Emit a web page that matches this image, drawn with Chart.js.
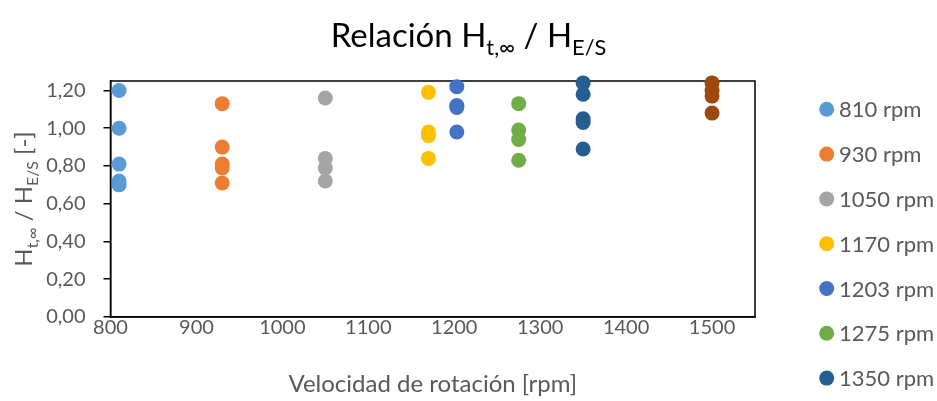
<!DOCTYPE html>
<html>
<head>
<meta charset="utf-8">
<script src="https://cdn.jsdelivr.net/npm/chart.js@4/dist/chart.umd.min.js"></script>
<style>
  html, body { margin: 0; padding: 0; background: #fff; overflow: hidden; }
  #wrap { width: 937px; height: 401px; }
</style>
</head>
<body>
<div id="wrap"><canvas id="c" width="937" height="401"></canvas></div>
<script>
// Rotation speed groups (rpm) and the measured H_t,inf / H_E/S ratios for each
const speedLabels = ['810 rpm', '930 rpm', '1050 rpm', '1170 rpm', '1203 rpm', '1275 rpm', '1350 rpm', '1500 rpm'];
const speeds = [810, 930, 1050, 1170, 1203, 1275, 1350, 1500];
const ratio810 = [1.20, 1.00, 0.81, 0.72, 0.70];
const ratio930 = [1.13, 0.90, 0.81, 0.79, 0.71];
const ratio1050 = [1.16, 0.84, 0.79, 0.72];
const ratio1170 = [1.19, 0.98, 0.96, 0.84];
const ratio1203 = [1.22, 1.12, 1.11, 0.98];
const ratio1275 = [1.13, 0.99, 0.94, 0.83];
const ratio1350 = [1.24, 1.18, 1.05, 1.03, 0.89];
const ratio1500 = [1.24, 1.20, 1.17, 1.08];
const ratios = [ratio810, ratio930, ratio1050, ratio1170, ratio1203, ratio1275, ratio1350, ratio1500];
const seriesColors = ['#5B9BD5', '#ED7D31', '#A5A5A5', '#FFC000', '#4472C4', '#70AD47', '#255E91', '#9E480E'];

// Axis tick values
const xTicks = [800, 900, 1000, 1100, 1200, 1300, 1400, 1500];
const yTicks = [0, 0.2, 0.4, 0.6, 0.8, 1.0, 1.2];

const FONT = 'Lato, "Open Sans", sans-serif';
const TEXT_GREY = '#595959';

const datasets = speeds.map((s, i) => ({
  label: speedLabels[i],
  data: ratios[i].map(v => ({ x: s, y: v })),
  backgroundColor: seriesColors[i],
  borderColor: seriesColors[i],
  borderWidth: 0,
  pointRadius: 7.5,
  pointHoverRadius: 7.5,
  clip: false
}));

// Draws text made of normal and subscript runs
function drawRich(ctx, parts, x, y, size, color, align) {
  const subSize = size * 0.66;
  let total = 0;
  parts.forEach(p => {
    ctx.font = (p.sub ? subSize : size) + 'px ' + FONT;
    p.w = ctx.measureText(p.t).width;
    total += p.w;
  });
  let cx = align === 'center' ? x - total / 2 : x;
  ctx.fillStyle = color;
  ctx.textBaseline = 'alphabetic';
  ctx.textAlign = 'left';
  parts.forEach(p => {
    ctx.font = (p.sub ? subSize : size) + 'px ' + FONT;
    ctx.fillText(p.t, cx, p.sub ? y + size * 0.24 : y);
    cx += p.w;
  });
}

const decorations = {
  id: 'decorations',
  beforeDatasetsDraw(chart) {
    const { ctx, chartArea: a } = chart;
    ctx.save();
    ctx.strokeStyle = '#000';
    ctx.lineWidth = 1.5;
    ctx.strokeRect(a.left, a.top, a.right - a.left, a.bottom - a.top);
    ctx.restore();
  },
  afterDraw(chart) {
    const { ctx, chartArea: a } = chart;
    ctx.save();
    // Title
    drawRich(ctx, [{ t: 'Relación H' }, { t: 't,∞', sub: true }, { t: ' / H' }, { t: 'E/S', sub: true }],
      chart.width / 2, 47, 33, '#000', 'center');
    // X axis title
    drawRich(ctx, [{ t: 'Velocidad de rotación [rpm]' }], (a.left + a.right) / 2, 392, 24, TEXT_GREY, 'center');
    // Y axis title
    ctx.translate(32, (a.top + a.bottom) / 2);
    ctx.rotate(-Math.PI / 2);
    drawRich(ctx, [{ t: 'H' }, { t: 't,∞', sub: true }, { t: ' / H' }, { t: 'E/S', sub: true }, { t: ' [-]' }],
      0, 0, 24, TEXT_GREY, 'center');
    ctx.restore();

    // Legend column on the right
    ctx.save();
    chart.data.datasets.forEach((ds, i) => {
      const y = 109.3 + i * 44.8;
      ctx.beginPath();
      ctx.fillStyle = ds.backgroundColor;
      ctx.arc(826.7, y, 7.5, 0, Math.PI * 2);
      ctx.fill();
      ctx.font = '22px ' + FONT;
      ctx.fillStyle = TEXT_GREY;
      ctx.textAlign = 'left';
      ctx.textBaseline = 'middle';
      ctx.fillText(ds.label, 839, y + 1);
    });
    ctx.restore();
  }
};

new Chart(document.getElementById('c'), {
  type: 'scatter',
  data: { datasets },
  options: {
    responsive: false,
    animation: false,
    devicePixelRatio: 1,
    layout: { padding: { top: 81, right: 182, left: 10.5, bottom: 54 } },
    plugins: { legend: { display: false }, tooltip: { enabled: false }, title: { display: false } },
    scales: {
      x: {
        type: 'linear',
        min: 800,
        max: 1550,
        afterBuildTicks: s => { s.ticks = xTicks.map(v => ({ value: v })); },
        afterFit: s => { s.height = 30; },
        ticks: { color: TEXT_GREY, font: { family: FONT, size: 20 }, padding: -1, maxRotation: 0,
                 callback: v => String(v) },
        grid: { display: false, drawTicks: false },
        border: { display: true, color: '#000', width: 1.5 }
      },
      y: {
        min: 0,
        max: 1.25,
        afterBuildTicks: s => { s.ticks = yTicks.map(v => ({ value: v })); },
        afterFit: s => { s.width = 100; },
        ticks: {
          color: TEXT_GREY,
          font: { family: FONT, size: 20 },
          padding: 18,
          callback: v => v.toFixed(2).replace('.', ',')
        },
        grid: { drawOnChartArea: false, drawTicks: true, tickLength: 7, color: '#000', lineWidth: 1.5 },
        border: { display: true, color: '#000', width: 1.5 }
      }
    }
  },
  plugins: [decorations]
});
</script>
</body>
</html>
